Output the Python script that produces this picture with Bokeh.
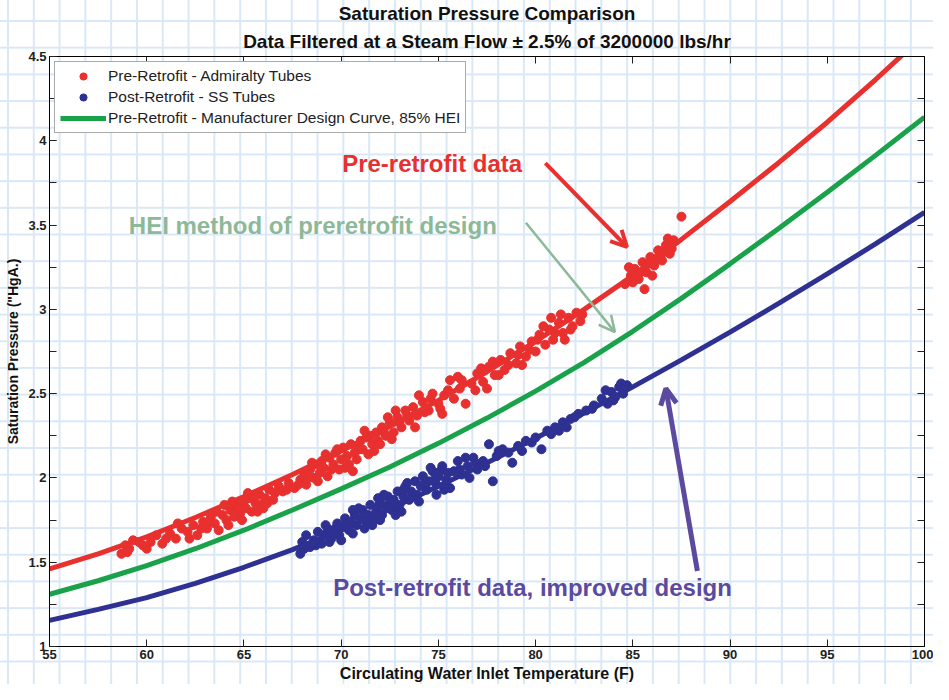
import numpy as np
from bokeh.plotting import figure
from bokeh.models import (Range1d, LinearAxis, SingleIntervalTicker, FixedTicker, Title, Legend,
                          LegendItem, Arrow, OpenHead, ColumnDataSource)
from bokeh.core.properties import value
from bokeh.embed import file_html
from bokeh.resources import INLINE

# ---------------- data ----------------
curve_x = [55, 57.5, 60, 62.5, 65, 67.5, 70, 72.5, 75, 77.5, 80, 82.5, 85, 87.5, 90, 92.5, 95, 97.5, 100]
pre_curve = [1.46, 1.55, 1.65, 1.765, 1.89, 2.02, 2.16, 2.305, 2.46, 2.63, 2.81, 3.00, 3.20, 3.415, 3.64, 3.87, 4.11, 4.365, 4.63]
design_curve = [1.31, 1.39, 1.48, 1.58, 1.69, 1.81, 1.935, 2.065, 2.205, 2.355, 2.515, 2.685, 2.87, 3.065, 3.27, 3.48, 3.695, 3.915, 4.14]
post_curve = [1.155, 1.22, 1.29, 1.375, 1.47, 1.575, 1.69, 1.815, 1.95, 2.09, 2.235, 2.385, 2.54, 2.70, 2.865, 3.035, 3.21, 3.39, 3.575]

pre_x = [58.7, 58.9, 59.1, 59.3, 59.8, 60.2, 60.5, 60.8, 61.2, 61.5, 61.8, 62.1, 62.4, 62.6, 62.9,
         63.1, 63.3, 63.5, 63.7, 63.9, 64.1, 64.3, 64.5, 64.6, 64.8, 65.0, 65.1, 65.3, 65.4, 65.6,
         65.8, 65.9, 66.1, 66.3, 66.5, 66.8, 67.0, 67.3, 67.6, 67.9, 68.1, 68.2, 68.4, 68.6, 68.7,
         68.9, 69.0, 69.1, 69.3, 69.4, 69.6, 69.7, 69.9, 70.0, 70.1, 70.3, 70.4, 70.5, 70.7, 70.8,
         71.0, 71.1, 71.3, 71.4, 71.6, 71.8, 71.9, 72.1, 72.3, 72.5, 72.7, 72.9, 73.1, 73.3, 73.5,
         73.7, 73.9, 74.2, 74.5, 74.7, 75.0, 75.3, 75.6, 75.8, 76.1, 76.4, 76.7, 77.0, 77.3, 77.6,
         77.9, 78.2, 78.4, 78.7, 79.0, 79.2, 79.5, 79.8, 80.0, 80.2, 80.5, 80.7, 80.9, 81.2, 81.4,
         81.7, 81.9, 82.1, 82.3, 84.6, 84.9, 85.1, 85.3, 85.5, 85.7, 85.9, 86.1, 86.3, 86.5, 86.7,
         86.9, 87.1, 87.0, 85.6, 87.5,
         64.0, 65.2, 66.0, 69.2, 70.6, 71.2, 72.0, 72.8, 74.0, 76.0, 77.5, 79.3, 80.8, 81.5, 75.2,
         59.0, 59.6, 60.0, 61.0, 61.6, 62.2, 62.8, 63.2, 63.6, 64.2, 64.4, 64.7, 64.9, 65.5, 65.7,
         66.2, 66.6, 67.2, 67.8, 68.3, 68.5, 68.8, 69.5, 69.8, 70.2, 70.9, 71.5, 71.7, 72.2, 72.4,
         72.6, 73.0, 73.4, 73.8, 74.3, 74.6, 75.1, 75.5, 76.2, 76.9, 77.2, 77.8, 78.1, 78.6, 79.1,
         79.7, 80.1, 80.4, 81.0, 81.3, 81.8, 82.4, 85.0, 85.8, 86.2, 86.6, 86.8, 85.4, 84.8, 86.0]
pre_y = [1.55, 1.60, 1.58, 1.63, 1.60, 1.62, 1.66, 1.61, 1.67, 1.64, 1.70, 1.68, 1.72, 1.66, 1.74,
         1.70, 1.77, 1.73, 1.69, 1.78, 1.75, 1.81, 1.77, 1.84, 1.79, 1.86, 1.82, 1.88, 1.80, 1.85,
         1.90, 1.84, 1.88, 1.93, 1.87, 1.95, 1.92, 1.97, 1.94, 1.99, 2.02, 1.96, 2.05, 2.00, 2.08,
         2.03, 2.10, 2.06, 2.01, 2.12, 2.08, 2.15, 2.05, 2.11, 2.18, 2.13, 2.08, 2.20, 2.15, 2.11,
         2.22, 2.17, 2.24, 2.14, 2.20, 2.27, 2.22, 2.30, 2.25, 2.33, 2.27, 2.36, 2.30, 2.40, 2.34,
         2.42, 2.37, 2.45, 2.40, 2.50, 2.44, 2.49, 2.58, 2.47, 2.53, 2.44, 2.56, 2.62, 2.57, 2.66,
         2.61, 2.70, 2.64, 2.74, 2.68, 2.78, 2.72, 2.81, 2.75, 2.85, 2.79, 2.88, 2.82, 2.92, 2.86,
         2.95, 2.90, 2.98, 2.93, 3.15, 3.20, 3.24, 3.18, 3.28, 3.22, 3.31, 3.26, 3.35, 3.29, 3.38,
         3.33, 3.41, 3.36, 3.12, 3.55,
         1.84, 1.91, 1.82, 2.14, 2.04, 2.28, 2.20, 2.40, 2.49, 2.60, 2.53, 2.67, 2.95, 2.82, 2.38,
         1.56, 1.62, 1.58, 1.64, 1.73, 1.64, 1.70, 1.74, 1.80, 1.72, 1.86, 1.82, 1.75, 1.89, 1.80,
         1.85, 1.91, 1.93, 1.96, 2.00, 2.09, 1.98, 2.05, 2.17, 2.06, 2.17, 2.25, 2.16, 2.27, 2.36,
         2.23, 2.33, 2.37, 2.30, 2.39, 2.47, 2.41, 2.52, 2.58, 2.52, 2.65, 2.69, 2.61, 2.67, 2.73,
         2.76, 2.82, 2.90, 2.86, 2.97, 2.88, 2.97, 3.16, 3.27, 3.30, 3.34, 3.42, 3.22, 3.25, 3.20]

post_x = [67.9, 68.0, 68.2, 68.4, 68.6, 68.8, 69.0, 69.1, 69.3, 69.5, 69.6, 69.8, 69.9, 70.1, 70.2,
          70.4, 70.5, 70.7, 70.8, 71.0, 71.1, 71.2, 71.4, 71.5, 71.7, 71.8, 72.0, 72.1, 72.3, 72.4,
          72.6, 72.7, 72.9, 73.0, 73.2, 73.3, 73.5, 73.6, 73.8, 73.9, 74.1, 74.2, 74.4, 74.5, 74.7,
          74.9, 75.0, 75.2, 75.4, 75.6, 75.8, 76.0, 76.2, 76.5, 76.8, 77.0, 77.3, 77.6, 77.8, 78.0,
          78.3, 78.8, 79.1, 79.5, 80.0, 80.3, 80.6, 81.0, 81.4, 81.8, 82.2, 82.6, 83.0, 83.4, 83.7,
          83.9, 84.1, 84.3, 84.5, 84.7,
          69.2, 70.0, 70.9, 71.6, 72.2, 72.8, 73.4, 74.0, 74.6, 75.3, 73.1, 71.9,
          68.1, 68.7, 69.4, 69.7, 70.3, 70.6, 71.3, 71.9, 72.5, 72.9, 73.2, 73.7, 74.3, 74.8, 75.1,
          75.5, 76.1, 76.4, 76.9, 77.4, 78.1, 78.6, 79.3, 79.8, 80.8, 81.2, 81.6, 82.0, 82.9, 83.6,
          84.0, 84.4, 76.6, 74.9, 70.6, 72.0]
post_y = [1.55, 1.62, 1.66, 1.59, 1.63, 1.68, 1.61, 1.66, 1.70, 1.64, 1.68, 1.73, 1.66, 1.71, 1.76,
          1.69, 1.74, 1.78, 1.72, 1.76, 1.81, 1.70, 1.78, 1.84, 1.75, 1.80, 1.86, 1.78, 1.83, 1.89,
          1.81, 1.87, 1.92, 1.84, 1.89, 1.95, 1.87, 1.92, 1.98, 1.90, 1.95, 2.01, 1.93, 1.98, 2.04,
          1.96, 2.01, 2.07, 1.99, 1.94, 2.04, 2.10, 2.02, 2.07, 2.12, 2.05, 2.10, 2.20, 1.98, 2.13,
          2.17, 2.09, 2.19, 2.22, 2.24, 2.17, 2.28, 2.30, 2.33, 2.35, 2.38, 2.40, 2.43, 2.47, 2.44,
          2.51, 2.48, 2.54, 2.50, 2.55,
          1.72, 1.63, 1.82, 1.72, 1.90, 1.78, 1.97, 1.86, 2.06, 1.93, 1.80, 1.88,
          1.58, 1.60, 1.62, 1.70, 1.73, 1.67, 1.74, 1.83, 1.85, 1.83, 1.93, 1.89, 1.97, 1.99, 2.04,
          2.03, 2.05, 2.12, 2.09, 2.07, 2.16, 2.15, 2.16, 2.21, 2.26, 2.28, 2.30, 2.36, 2.41, 2.52,
          2.46, 2.56, 2.00, 1.90, 1.81, 1.75]

x_tick_interval = 5
y_tick_interval = 0.5
y_minor_interval = 0.25

# annotation texts and their anchor points (data coords)
note_text = ["Pre-retrofit data", "HEI method of preretrofit design", "Post-retrofit data, improved design"]
note_x = [70.05, 59.08, 69.59]
note_y = [3.868, 3.497, 1.348]
note_color = ["#e8302f", "#8cb998", "#5b4aa0"]

# arrows: start -> end (data coords)
arr_x0 = [80.5, 79.5, 88.32]
arr_y0 = [3.868, 3.514, 1.448]
arr_x1 = [84.7, 84.08, 86.7]
arr_y1 = [3.37, 2.865, 2.53]

RED = "#e8302f"
GREEN = "#19a24a"
BLUE = "#2e3192"
FONT = "Liberation Sans"

p = figure(width=933, height=684, output_backend="svg", toolbar_location=None,
           x_range=Range1d(55, 100), y_range=Range1d(1, 4.5),
           min_border_left=49, min_border_right=9, min_border_top=55, min_border_bottom=36)

p.styles = {
    "background-color": "#ffffff",
    "background-image": ("linear-gradient(to right, #dae8f6 1.5px, transparent 1.5px), "
                         "linear-gradient(to bottom, #dae8f6 1.5px, transparent 1.5px)"),
    "background-size": "25.8px 26.7px",
    "background-position": "7px 20px",
}
p.background_fill_color = None
p.border_fill_color = None
p.outline_line_color = "#000000"
p.outline_line_width = 1
p.xgrid.visible = False
p.ygrid.visible = False

def style_axis(ax):
    ax.major_tick_in = 7
    ax.major_tick_out = 0
    ax.minor_tick_in = 7
    ax.minor_tick_out = 0
    ax.minor_tick_line_color = "#222222"
    ax.major_tick_line_color = "#222222"
    ax.axis_line_color = "#000000"
    ax.major_label_text_font = FONT
    ax.major_label_text_font_style = "bold"
    ax.major_label_text_font_size = "13px"
    ax.major_label_text_color = "#222222"
    ax.major_label_standoff = 3
    ax.axis_label_text_font = FONT
    ax.axis_label_text_font_style = "bold"
    ax.axis_label_text_font_size = "14px"
    ax.axis_label_text_color = "#111111"
    ax.axis_label_standoff = 4

xa = p.xaxis[0]
ya = p.yaxis[0]
xa.ticker = SingleIntervalTicker(interval=x_tick_interval, num_minor_ticks=0)
ya.ticker = SingleIntervalTicker(interval=y_tick_interval, num_minor_ticks=2)
style_axis(xa)
style_axis(ya)
xa.minor_tick_line_color = None
xa.axis_label = "Circulating Water Inlet Temperature (F)"
xa.axis_label_text_font_size = "16px"
xa.axis_label_standoff = 3
ya.axis_label = 'Saturation Pressure ("HgA.)'

# top / right frame ticks (minor ticks only, so no labels are drawn)
top_ax = LinearAxis(ticker=FixedTicker(ticks=[], minor_ticks=list(np.arange(60, 100, x_tick_interval))))
right_ax = LinearAxis(ticker=FixedTicker(ticks=[], minor_ticks=list(np.arange(1.25, 4.5, y_minor_interval))))
style_axis(top_ax)
style_axis(right_ax)
p.add_layout(top_ax, "above")
p.add_layout(right_ax, "right")

# titles (bottom line first so it sits nearest the frame)
p.add_layout(Title(text="Data Filtered at a Steam Flow \u00b1 2.5% of 3200000 lbs/hr", align="center",
                   text_font=FONT, text_font_size="19px", text_font_style="bold",
                   text_color="#111111", standoff=9), "above")
p.add_layout(Title(text="Saturation Pressure Comparison", align="center",
                   text_font=FONT, text_font_size="19px", text_font_style="bold",
                   text_color="#111111", standoff=1), "above")

# scatter first, lines over
r_pre = p.scatter(pre_x, pre_y, size=9, fill_color=RED, line_color=RED, marker="circle")
r_post = p.scatter(post_x, post_y, size=9, fill_color=BLUE, line_color=BLUE, marker="circle")
p.line(curve_x, pre_curve, line_color=RED, line_width=5)
r_design = p.line(curve_x, design_curve, line_color=GREEN, line_width=5)
p.line(curve_x, post_curve, line_color=BLUE, line_width=5)

# annotations
src = ColumnDataSource(dict(x=note_x, y=note_y, t=note_text, c=note_color))
p.text(x="x", y="y", text="t", text_color="c", source=src, text_font=value(FONT),
       text_font_style="bold", text_font_size="24px", text_baseline="middle", text_align="left")

arrow_styles = [(RED, 4, 16), ("#8cb998", 2.5, 16), ("#5b4aa0", 5, 16)]
for i, (col, lw, hs) in enumerate(arrow_styles):
    p.add_layout(Arrow(x_start=arr_x0[i], y_start=arr_y0[i], x_end=arr_x1[i], y_end=arr_y1[i],
                       line_color=col, line_width=lw,
                       end=OpenHead(size=hs, line_color=col, line_width=lw)))

legend = Legend(items=[
    LegendItem(label="Pre-Retrofit - Admiralty Tubes", renderers=[r_pre]),
    LegendItem(label="Post-Retrofit - SS Tubes", renderers=[r_post]),
    LegendItem(label="Pre-Retrofit - Manufacturer Design Curve, 85% HEI", renderers=[r_design]),
], location="top_left")
legend.label_text_font = FONT
legend.label_text_font_size = "15.5px"
legend.label_text_color = "#222222"
legend.glyph_width = 46
legend.glyph_height = 18
legend.label_height = 18
legend.spacing = 3
legend.padding = 5
legend.margin = 5
legend.label_standoff = 2
legend.border_line_color = "#555555"
legend.border_line_width = 1
legend.background_fill_color = "#ffffff"
legend.background_fill_alpha = 1
p.add_layout(legend)

open("out.html", "w").write(file_html(p, INLINE))
